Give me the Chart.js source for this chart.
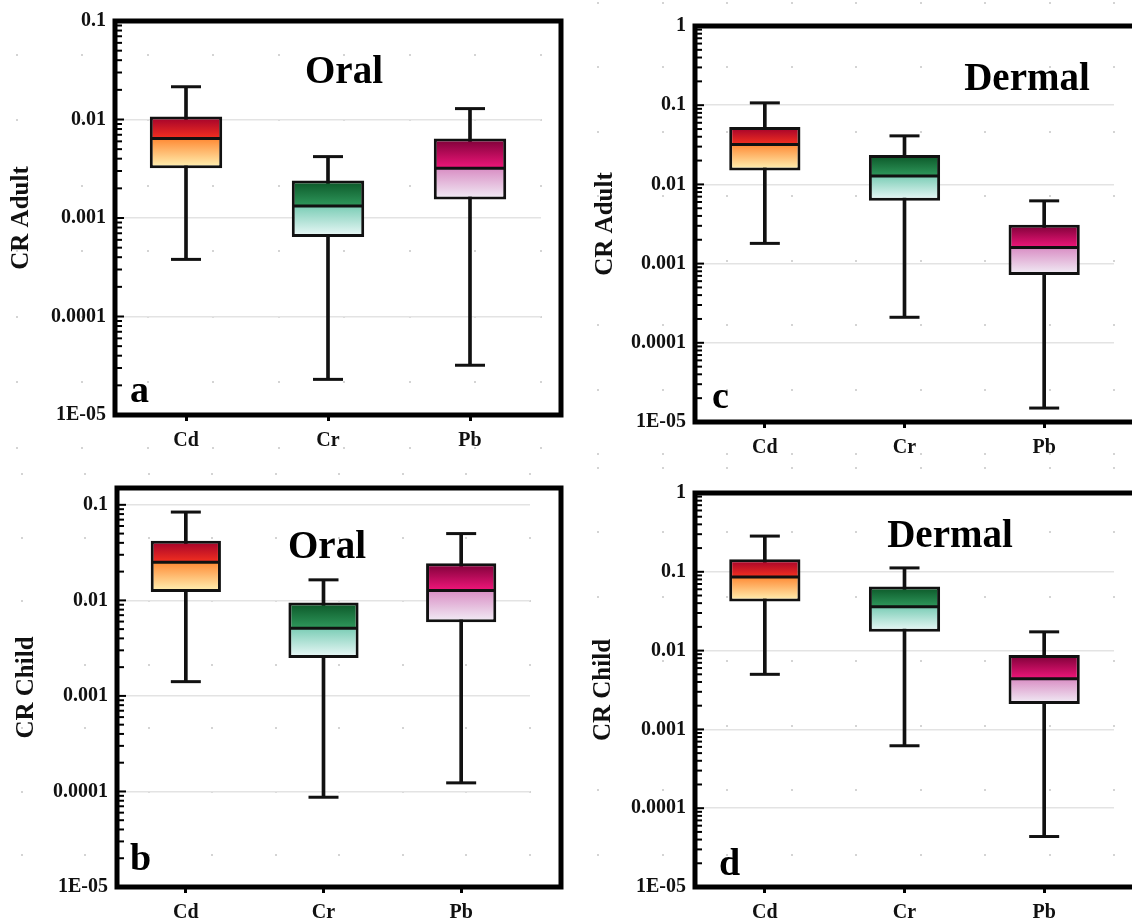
<!DOCTYPE html>
<html>
<head>
<meta charset="utf-8">
<title>CR boxplots</title>
<script src="https://cdn.jsdelivr.net/npm/chart.js@4.4.1/dist/chart.umd.min.js"></script>
<style>
    html, body { margin: 0; padding: 0; background: #fff; }
    body { width: 1132px; height: 919px; position: relative; overflow: hidden; }
    .panel { position: absolute; }
</style>
</head>
<body>
<div class="panel" style="left:0;top:0"><canvas id="chartA" width="566" height="460"></canvas></div>
<div class="panel" style="left:566px;top:0"><canvas id="chartC" width="566" height="460"></canvas></div>
<div class="panel" style="left:0;top:460px"><canvas id="chartB" width="566" height="459"></canvas></div>
<div class="panel" style="left:566px;top:460px"><canvas id="chartD" width="566" height="459"></canvas></div>

<script>
// --- data ---
const metals = ['Cd', 'Cr', 'Pb'];

const yTickValues = [1, 0.1, 0.01, 0.001, 0.0001, 0.00001];
const yTickLabels = ['1', '0.1', '0.01', '0.001', '0.0001', '1E-05'];

// a) adult, oral
const adultOralMin = [0.00038, 0.000023, 0.000032];
const adultOralQ1 = [0.0032, 0.00064, 0.00154];
const adultOralMedian = [0.0064, 0.00132, 0.0032];
const adultOralQ3 = [0.0107, 0.0024, 0.0064];
const adultOralMax = [0.0215, 0.0042, 0.0129];

// b) child, oral
const childOralMin = [0.00141, 0.000087, 0.000123];
const childOralQ1 = [0.0122, 0.0025, 0.0059];
const childOralMedian = [0.025, 0.0051, 0.0127];
const childOralQ3 = [0.042, 0.0095, 0.0245];
const childOralMax = [0.084, 0.0164, 0.050];

// c) adult, dermal
const adultDermalMin = [0.0018, 0.00021, 0.000015];
const adultDermalQ1 = [0.015, 0.0062, 0.00072];
const adultDermalMedian = [0.032, 0.0128, 0.0016];
const adultDermalQ3 = [0.053, 0.0235, 0.0031];
const adultDermalMax = [0.107, 0.041, 0.0062];

// d) child, dermal
const childDermalMin = [0.0050, 0.00062, 0.0000437];
const childDermalQ1 = [0.042, 0.0173, 0.0021];
const childDermalMedian = [0.086, 0.036, 0.0044];
const childDermalQ3 = [0.144, 0.065, 0.0088];
const childDermalMax = [0.284, 0.112, 0.0173];

// box colours per metal: top, above median, below median, bottom
const boxColors = [
    ['#a0002c', '#f4301f', '#ff8a35', '#fff6b8'],
    ['#0a5526', '#2f985c', '#7ccdb6', '#eefafa'],
    ['#7a0036', '#f0167a', '#d98ec4', '#f2eff7']
];

const serif = '"Liberation Serif", "Times New Roman", serif';
const boxPct = 0.51;

function halfBox(chart) {
    const x = chart.scales.x;
    return x.width / metals.length * boxPct / 2 - 1.5;
}

function makePanel(canvasId, cfg) {
    const { min, q1, median, q3, max } = cfg;
    const canvas = document.getElementById(canvasId);
    const W = canvas.width, H = canvas.height;

    const boxFill = function (ctx) {
        const chart = ctx.chart;
        if (!chart.chartArea) return null;
        const i = ctx.dataIndex;
        const y = chart.scales.y;
        const top = y.getPixelForValue(q3[i]);
        const bot = y.getPixelForValue(q1[i]);
        const mid = y.getPixelForValue(median[i]);
        const f = Math.max(0, Math.min(1, (mid - top) / (bot - top)));
        const c = boxColors[i];
        const g = chart.ctx.createLinearGradient(0, top, 0, bot);
        g.addColorStop(0, c[0]);
        g.addColorStop(f, c[1]);
        g.addColorStop(Math.min(1, f + 0.002), c[2]);
        g.addColorStop(1, c[3]);
        return g;
    };

    // dotted lattice, frame, inner minor ticks and panel texts
    const decor = {
        id: 'decor' + canvasId,
        beforeDraw(chart) {
            const { ctx, chartArea: a } = chart;
            ctx.save();
            ctx.fillStyle = '#fff';
            ctx.fillRect(0, 0, W, H);
            const step = (a.right - a.left) / 6.5;
            ctx.fillStyle = '#d4d4d4';
            for (let x = a.right; x > 0; x -= step) {
                for (let y = a.bottom + cfg.dotShift * step; y > 0; y -= step) {
                    ctx.fillRect(Math.round(x) - 1, Math.round(y) - 1, 2, 2);
                }
            }
            ctx.restore();
        },
        afterDraw(chart) {
            const { ctx, chartArea: a } = chart;
            const y = chart.scales.y;
            ctx.save();
            ctx.strokeStyle = '#000';
            ctx.lineWidth = 5;
            ctx.strokeRect(a.left, a.top, cfg.frameRight - a.left, a.bottom - a.top);

            ctx.lineWidth = 2;
            for (let e = -5; e <= 0; e++) {
                for (let m = 1; m <= 9; m++) {
                    const v = m * Math.pow(10, e);
                    if (v < y.min * 0.999 || v > y.max * 1.001) continue;
                    const py = y.getPixelForValue(v);
                    ctx.beginPath();
                    ctx.moveTo(a.left, py);
                    ctx.lineTo(a.left + (m === 1 ? 9 : 7), py);
                    ctx.stroke();
                }
            }

            ctx.fillStyle = '#000';
            ctx.font = 'bold 39px ' + serif;
            ctx.textAlign = 'center';
            ctx.textBaseline = 'middle';
            ctx.fillText(cfg.route, cfg.routeX, cfg.routeY);
            ctx.font = 'bold 38px ' + serif;
            ctx.textAlign = 'left';
            ctx.textBaseline = 'alphabetic';
            ctx.fillText(cfg.letter, cfg.letterX, cfg.letterY);
            ctx.restore();
        }
    };

    const pointSet = (data, radius) => ({
        type: 'line',
        data: data,
        showLine: false,
        pointStyle: 'line',
        pointRadius: radius,
        pointHoverRadius: radius,
        pointBorderWidth: 3,
        pointBorderColor: '#111',
        pointBackgroundColor: 'rgba(0,0,0,0)',
        order: 1
    });

    return new Chart(canvas, {
        type: 'bar',
        data: {
            labels: metals,
            datasets: [
                {
                    // whiskers
                    data: metals.map((m, i) => [min[i], max[i]]),
                    backgroundColor: '#111',
                    borderWidth: 0,
                    barThickness: 3,
                    grouped: false,
                    order: 3
                },
                {
                    // boxes Q1..Q3
                    data: metals.map((m, i) => [q1[i], q3[i]]),
                    backgroundColor: boxFill,
                    borderColor: '#111',
                    borderWidth: 3,
                    borderSkipped: false,
                    barPercentage: boxPct,
                    categoryPercentage: 1,
                    grouped: false,
                    order: 2
                },
                pointSet(median, ctx => halfBox(ctx.chart)),
                pointSet(max, 15),
                pointSet(min, 15)
            ]
        },
        plugins: [decor],
        options: {
            responsive: false,
            animation: false,
            devicePixelRatio: 1,
            events: [],
            layout: {
                padding: { top: cfg.top, right: W - cfg.right, bottom: 0, left: 0 }
            },
            plugins: {
                legend: { display: false },
                tooltip: { enabled: false }
            },
            scales: {
                x: {
                    offset: true,
                    border: { display: false },
                    grid: {
                        offset: false,
                        drawOnChartArea: false,
                        drawTicks: true,
                        tickLength: 6,
                        tickWidth: 3,
                        tickColor: '#000'
                    },
                    ticks: {
                        color: '#111',
                        padding: 8,
                        maxRotation: 0,
                        font: { family: serif, size: 20, weight: 'bold' }
                    },
                    afterFit(scale) { scale.height = H - cfg.bottom; }
                },
                y: {
                    type: 'logarithmic',
                    min: cfg.yMin,
                    max: cfg.yMax,
                    border: { display: false },
                    grid: { color: '#e3e3e3', lineWidth: 1.5, drawTicks: false },
                    ticks: {
                        color: '#111',
                        padding: 9,
                        font: { family: serif, size: 20, weight: 'bold' },
                        callback: function (value) {
                            const k = yTickValues.findIndex(v => Math.abs(v - value) / v < 1e-6);
                            return k >= 0 ? yTickLabels[k] : '';
                        }
                    },
                    afterBuildTicks(scale) {
                        scale.ticks = yTickValues
                            .filter(v => v >= scale.min * 0.999 && v <= scale.max * 1.001)
                            .map(v => ({ value: v }));
                    },
                    title: {
                        display: true,
                        text: cfg.yTitle,
                        color: '#111',
                        font: { family: serif, size: 25, weight: 'bold' },
                        padding: { top: cfg.titleX - 15, bottom: 0 }
                    },
                    afterFit(scale) { scale.width = cfg.left; }
                }
            }
        }
    });
}

makePanel('chartA', {
    min: adultOralMin, q1: adultOralQ1, median: adultOralMedian, q3: adultOralQ3, max: adultOralMax,
    yMin: 0.00001, yMax: 0.1, yTitle: 'CR Adult',
    top: 19, bottom: 415, left: 115, right: 541, frameRight: 561,
    titleX: 22, route: 'Oral', routeX: 344, routeY: 73,
    letter: 'a', letterX: 130, letterY: 402, dotShift: 0.5
});

makePanel('chartB', {
    min: childOralMin, q1: childOralQ1, median: childOralMedian, q3: childOralQ3, max: childOralMax,
    yMin: 0.00001, yMax: 0.15, yTitle: 'CR Child',
    top: 28, bottom: 427, left: 117, right: 530, frameRight: 561,
    titleX: 27, route: 'Oral', routeX: 327, routeY: 88,
    letter: 'b', letterX: 130, letterY: 410, dotShift: -0.5
});

makePanel('chartC', {
    min: adultDermalMin, q1: adultDermalQ1, median: adultDermalMedian, q3: adultDermalQ3, max: adultDermalMax,
    yMin: 0.00001, yMax: 1, yTitle: 'CR Adult',
    top: 26, bottom: 422, left: 129, right: 558, frameRight: 620,
    titleX: 40, route: 'Dermal', routeX: 461, routeY: 80,
    letter: 'c', letterX: 146, letterY: 408, dotShift: 0.5
});

makePanel('chartD', {
    min: childDermalMin, q1: childDermalQ1, median: childDermalMedian, q3: childDermalQ3, max: childDermalMax,
    yMin: 0.00001, yMax: 1, yTitle: 'CR Child',
    top: 33, bottom: 427, left: 129, right: 552, frameRight: 620,
    titleX: 38, route: 'Dermal', routeX: 384, routeY: 77,
    letter: 'd', letterX: 153, letterY: 415, dotShift: -0.5
});
</script>
</body>
</html>
